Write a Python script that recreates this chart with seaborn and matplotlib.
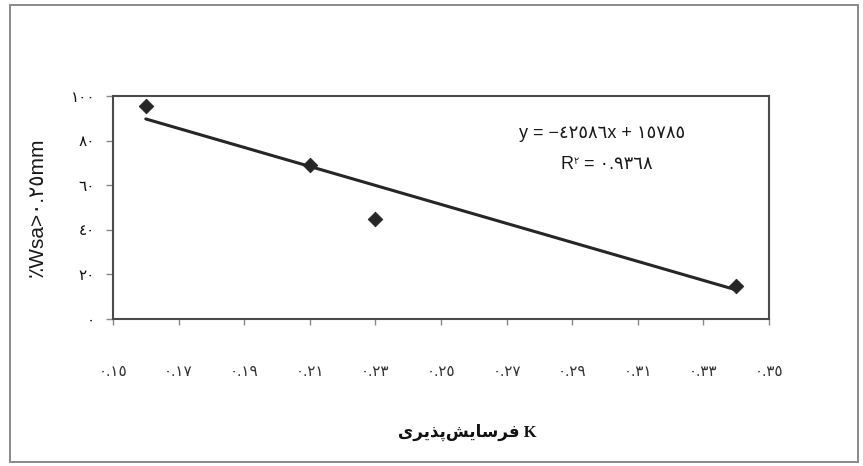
import numpy as np
import pandas as pd
import seaborn as sns
import matplotlib
matplotlib.use('Agg')
from matplotlib import pyplot as plt
from matplotlib.patches import Rectangle

sns.set_style("ticks")

# data
erodibility_k = [0.16, 0.21, 0.23, 0.34]
wsa_pct = [95.5, 69.0, 45.0, 15.0]
slope = -425.86
intercept = 157.85

x_ticks = [0.15, 0.17, 0.19, 0.21, 0.23, 0.25, 0.27, 0.29, 0.31, 0.33, 0.35]
x_tick_labels = ["٠.١٥", "٠.١٧", "٠.١٩", "٠.٢١", "٠.٢٣", "٠.٢٥", "٠.٢٧", "٠.٢٩", "٠.٣١", "٠.٣٣", "٠.٣٥"]
y_ticks = [0, 20, 40, 60, 80, 100]
y_tick_labels = ["٠", "٢٠", "٤٠", "٦٠", "٨٠", "١٠٠"]

eq_text = "y = −٤٢٥٨٦x + ١٥٧٨٥"
r2_value = " = ٠.٩٣٦٨"
ylabel = "٪Wsa>٠.٢٥mm"
# فرسایش‌پذیری written in presentation forms (matplotlib has no shaping)
xlabel = "\uFBFC\uFEAE\uFBFE\uFEAC\uFB58\uFEB6\uFBFE\uFE8E\uFEB3\uFEAE\uFED3 K"

sans = ['Liberation Sans', 'DejaVu Sans']

df = pd.DataFrame({"k": erodibility_k, "wsa": wsa_pct})
fit = pd.DataFrame({"k": [min(erodibility_k), max(erodibility_k)]})
fit["wsa"] = slope * fit["k"] + intercept

fig = plt.figure(figsize=(8.63, 4.66), dpi=100)
ax = fig.add_axes([113 / 863, 1 - 319 / 466, 656 / 863, 223 / 466])

sns.lineplot(data=fit, x="k", y="wsa", ax=ax, color="#262626", lw=2.2)
sns.scatterplot(data=df, x="k", y="wsa", ax=ax, marker="D", s=55,
                color="#262626", edgecolor="#262626", zorder=3)

ax.set_xlim(0.15, 0.35)
ax.set_ylim(0, 100)
ax.set_xticks(x_ticks)
ax.set_xticklabels(x_tick_labels, family=sans, fontsize=11, color="#333333")
ax.set_yticks(y_ticks)
ax.set_yticklabels(y_tick_labels, family=sans, fontsize=11, color="#111111")
ax.tick_params(axis="x", length=4, width=1, color="#888888", pad=29)
ax.tick_params(axis="y", length=5, width=1, color="#888888", pad=8)
ax.set_xlabel("")
ax.set_ylabel("")
for sp in ax.spines.values():
    sp.set_visible(True)
    sp.set_color("#4a4a4a")
    sp.set_linewidth(1.5)

# equation and R squared
ax.text(0.745, 0.83, eq_text, transform=ax.transAxes, family=sans,
        fontsize=13, ha="center", va="center", color="#1a1a1a")
r_txt = ax.text(0.682, 0.695, "R", transform=ax.transAxes, family=sans,
                fontsize=13, ha="left", va="center", color="#1a1a1a")
ax.annotate("٢", xy=(1.0, 1.0), xycoords=r_txt, va="top", ha="left",
            family=sans, fontsize=7, color="#1a1a1a")
ax.annotate(r2_value, xy=(1.0, 0.5), xycoords=r_txt, xytext=(4, 0),
            textcoords="offset points", va="center", ha="left",
            family=sans, fontsize=13, color="#1a1a1a")

fig.text(37 / 863, 1 - 207 / 466, ylabel, rotation=90, ha="center", va="center",
         family=sans, fontsize=15, color="#1a1a1a")
fig.text(467 / 863, 1 - 432 / 466, xlabel, ha="center", va="center",
         family=['Liberation Serif', 'DejaVu Sans'], fontweight="bold",
         fontsize=12, color="#111111")

fig.patches.append(Rectangle((10 / 863, 4 / 466), 848 / 863, 457 / 466,
                             transform=fig.transFigure, fill=False,
                             edgecolor="#8a8a8a", lw=1.4))

fig.savefig("out.png", dpi=100)
